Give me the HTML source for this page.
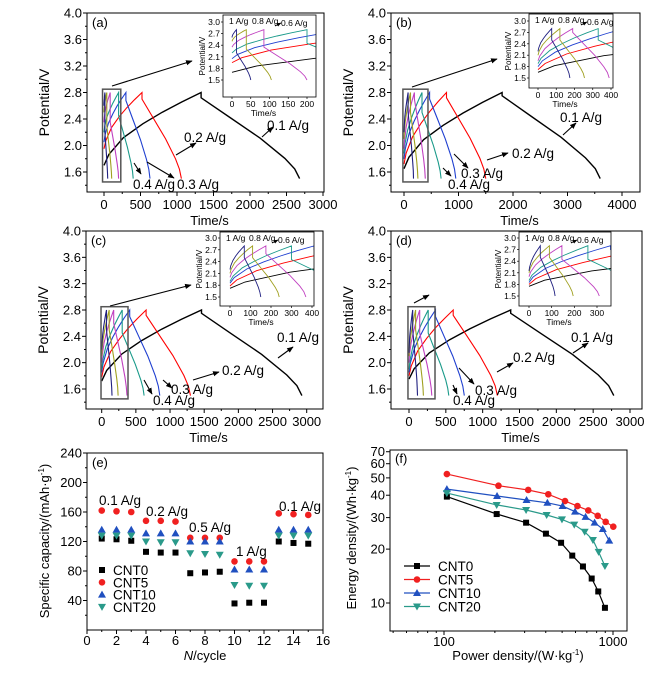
<!DOCTYPE html>
<html><head><meta charset="utf-8"><style>
body{margin:0;background:#fff}
svg{display:block;font-family:"Liberation Sans",Arial,sans-serif}
</style></head><body>
<svg id="fig" width="656" height="673" viewBox="0 0 656 673" xmlns="http://www.w3.org/2000/svg">
<defs><marker id="ah" viewBox="0 0 10 10" refX="9" refY="5" markerWidth="6" markerHeight="6" orient="auto"><path d="M0,1 L10,5 L0,9 z" fill="#000"/></marker></defs>
</svg>
<script>
// ---------- GCD data ----------
const rates = ['0.1 A/g','0.2 A/g','0.3 A/g','0.4 A/g','0.6 A/g','0.8 A/g','1 A/g'];
const colors = ['#000','#f00','#1f3fd0','#1a9a8a','#c040c0','#a0a020','#202080'];
const chargeA = [1330,520,300,200,85,38,12];
const dischA = [2680,1060,630,400,200,105,50];
const v0A = [1.7,1.95,2.05,2.2,2.35,2.5,2.6];
const dropA = [0.08,0.1,0.12,0.35,0.45,0.5,0.6];
const chargeB = [1800,780,470,330,190,120,75];
const dischB = [3600,1500,950,680,390,255,175];
const v0B = [1.65,1.72,1.8,1.88,1.95,2.1,2.2];
const dropB = [0.05,0.08,0.1,0.3,0.1,0.3,0.3];
const chargeC = [1460,650,410,300,175,110,70];
const dischC = [2930,1300,850,620,370,240,150];
const v0C = [1.72,1.78,1.85,1.9,2.0,2.1,2.2];
const dropC = [0.05,0.08,0.1,0.35,0.2,0.3,0.3];
const chargeD = [1380,600,360,260,145,90,50];
const dischD = [2780,1200,750,540,310,195,115];
const v0D = [1.75,1.8,1.85,1.9,2.0,2.1,2.15];
const dropD = [0.05,0.08,0.1,0.35,0.35,0.3,0.3];
// normalized curve shape templates
const chgShapeU = [0,0.05,0.2,0.4,0.6,0.8,1];
const chgShapeF = [0,0.15,0.38,0.57,0.73,0.87,1];
const disShapeU = [0,0.3,0.6,0.85,0.95,1];
const disShapeF = [0,0.25,0.5,0.75,0.88,1];
// ---------- rate capability (e) ----------
const cycles = [1,2,3,4,5,6,7,8,9,10,11,12,13,14,15];
const capCNT0 = [124,123,121,106,105,105,77,78,79,36,37,37,120,118,117];
const capCNT5 = [162,161,160,148,148,147,125,125,125,93,93,93,158,157,156];
const capCNT10 = [136,136,136,131,131,131,120,120,120,82,82,82,136,136,136];
const capCNT20 = [128,128,128,120,119,119,104,103,102,61,60,60,128,128,128];
const eXTicks = [0,2,4,6,8,10,12,14,16];
const eYTicks = [40,80,120,160,200,240];
// ---------- Ragone (f) ----------
const pCNT0 = [104,205,306,401,493,574,664,748,818,896];
const eCNT0 = [39.3,31.4,28.1,24.4,21.7,18.4,16.0,13.7,11.6,9.4];
const pCNT5 = [104,210,315,414,520,616,714,812,905,1004];
const eCNT5 = [52.5,45.2,42.8,40.5,37.1,34.8,32.9,30.7,28.4,26.7];
const pCNT10 = [104,206,308,409,503,596,688,778,870,950];
const eCNT10 = [43.3,39.6,37.6,36.3,34.8,32.4,30.3,28.1,25.9,22.3];
const pCNT20 = [104,205,306,405,499,590,680,761,822,896];
const eCNT20 = [41.1,35.3,33.1,31.0,29.3,27.4,25.0,22.5,19.3,16.1];
const fYTicks = [10,20,30,40,50,60,70];
const fXTicks = [100,1000];

const svg = document.getElementById('fig');
const NS = 'http://www.w3.org/2000/svg';
function mk(tag, attrs, parent){const e=document.createElementNS(NS,tag);for(const k in attrs)e.setAttribute(k,attrs[k]);(parent||svg).appendChild(e);return e;}
function txt(s,x,y,size,anchor,parent){const t=mk('text',{x:x,y:y,'font-size':size,'text-anchor':anchor||'start',fill:'#000'},parent);t.textContent=s;return t;}
function lin(d0,d1,r0,r1){return v=>r0+(v-d0)*(r1-r0)/(d1-d0);}

function curvePoints(tc,td,v0,drop){
  const pts=[];
  for(let i=0;i<chgShapeU.length;i++)pts.push([chgShapeU[i]*tc, v0+chgShapeF[i]*(2.8-v0)]);
  const vs=2.8-drop;
  for(let i=0;i<disShapeU.length;i++)pts.push([tc+disShapeU[i]*(td-tc), vs-disShapeF[i]*(vs-1.5)]);
  return pts;
}
function smoothPath(pts,sx,sy){
  let d='M'+sx(pts[0][0]).toFixed(1)+','+sy(pts[0][1]).toFixed(1);
  for(let i=1;i<pts.length;i++)d+=' L'+sx(pts[i][0]).toFixed(1)+','+sy(pts[i][1]).toFixed(1);
  return d;
}

let clipId=0;
function gcdPanel(o){
  const g=mk('g',{});
  
  
  const sx=lin(0,o.tmax,o.px0,o.px1), sy=lin(4.0,1.6,o.py0,o.py1);
  // curves
  for(let k=0;k<7;k++){
    const p=mk('path',{d:smoothPath(curvePoints(o.ch[k],o.di[k],o.v0[k],o.dr[k]),sx,sy),fill:'none',stroke:colors[k],'stroke-width':k==0?1.4:1.1},g);
    
    
  }
  // frame
  mk('rect',{x:o.x0,y:o.y0,width:o.x1-o.x0,height:o.y1-o.y0,fill:'none',stroke:'#000','stroke-width':1},g);
  // y ticks
  for(let v=1.6;v<=4.001;v+=0.4){const y=sy(v);mk('line',{x1:o.x0,x2:o.x0-4,y1:y,y2:y,stroke:'#000'},g);txt(v.toFixed(1),o.x0-5,y+4.5,13,'end',g);}
  for(let v=1.4;v<=3.901;v+=0.4){const y=sy(v);if(y<o.y1)mk('line',{x1:o.x0,x2:o.x0-2,y1:y,y2:y,stroke:'#000'},g);}
  for(let t=0;t<=o.tmax;t+=o.tstep){const x=sx(t);mk('line',{x1:x,x2:x,y1:o.y1,y2:o.y1+4,stroke:'#000'},g);txt(String(t),x,o.y1+17,13,'middle',g);
    const xm=sx(t+o.tstep/2);if(xm<o.x1)mk('line',{x1:xm,x2:xm,y1:o.y1,y2:o.y1+2,stroke:'#000'},g);}
  const yl=txt('Potential/V',0,0,14,'middle',g);yl.setAttribute('transform','translate('+(o.x0-38)+','+((o.y0+o.y1)/2)+') rotate(-90)');
  
  const xl=txt('Time/s',(o.x0+o.x1)/2+4,o.y1+33,13,'middle',g);
  
  txt('('+o.tag+')',o.x0+5,o.y0+14,13,'start',g);
  // zoom box
  mk('rect',{x:sx(o.bx[0]),y:sy(2.85),width:sx(o.bx[1])-sx(o.bx[0]),height:sy(1.45)-sy(2.85),fill:'none',stroke:'#555','stroke-width':1.5},g);
  mk('line',{x1:o.za[0],y1:o.za[1],x2:o.za[2],y2:o.za[3],stroke:'#000','stroke-width':1.1,'marker-end':'url(#ah)'},g);
  // labels
  o.labels.forEach(L=>{txt(L[0],L[1],L[2],13.5,'start',g);mk('line',{x1:L[3],y1:L[4],x2:L[5],y2:L[6],stroke:'#000','stroke-width':1.1,'marker-end':'url(#ah)'},g);});
  // inset
  const I=o.ins, ig=mk('g',{},g);
  
  const isx=lin(0,I.tm,I.t0,I.t1), isy=lin(3.0,1.5,I.v30,I.v15);
  const cid='clip'+(clipId++);
  const cp=mk('clipPath',{id:cid},ig);mk('rect',{x:I.x0,y:I.y0,width:I.x1-I.x0,height:I.y1-I.y0},cp);
  const cg=mk('g',{'clip-path':'url(#'+cid+')'},ig);
  for(let k=0;k<7;k++)mk('path',{d:smoothPath(curvePoints(o.ch[k],o.di[k],o.v0[k],o.dr[k]),isx,isy),fill:'none',stroke:colors[k],'stroke-width':0.9},cg);
  mk('rect',{x:I.x0,y:I.y0,width:I.x1-I.x0,height:I.y1-I.y0,fill:'none',stroke:'#000','stroke-width':0.8},ig);
  [1.5,1.8,2.1,2.4,2.7,3.0].forEach(v=>{const y=isy(v);mk('line',{x1:I.x0,x2:I.x0-2,y1:y,y2:y,stroke:'#000','stroke-width':0.7},ig);txt(v.toFixed(1),I.x0-3,y+3,8.5,'end',ig);});
  for(let t=0;t<=I.tm;t+=I.ts){const x=isx(t);mk('line',{x1:x,x2:x,y1:I.y1,y2:I.y1+2,stroke:'#000','stroke-width':0.7},ig);txt(String(t),x,I.y1+10,8.5,'middle',ig);}
  const iyl=txt('Potential/V',0,0,8,'middle',ig);iyl.setAttribute('transform','translate('+(I.x0-18)+','+((I.y0+I.y1)/2)+') rotate(-90)');
  txt('Time/s',(I.x0+I.x1)/2-6,I.y1+19,8.5,'middle',ig);
  txt('1 A/g',I.x0+6,I.y0+9,8.5,'start',ig);txt('0.8 A/g',I.x0+29,I.y0+9,8.5,'start',ig);txt('0.6 A/g',I.x0+58,I.y0+11,8.5,'start',ig);
  mk('line',{x1:I.x0+52,y1:I.y0+11,x2:I.x0+58,y2:I.y0+8,stroke:'#000','stroke-width':0.8,'marker-end':'url(#ah)'},ig);
}

gcdPanel({tag:'a',x0:87,x1:324,y0:13,y1:192,px0:104,px1:323,tmax:3000,tstep:500,py0:13,py1:172,
 ch:chargeA,di:dischA,v0:v0A,dr:dropA,bx:[-20,230],za:[112,86,192,61],
 labels:[['0.1 A/g',267,130,262,137,273,127],['0.2 A/g',184,142,176,155,196,143],['0.4 A/g',133,189,134,163,141,174],['0.3 A/g',177,189,147,162,174,178]],
 ins:{x0:223,x1:316,y0:15,y1:97,t0:232,t1:307,tm:200,ts:50,v30:22,v15:80}});
gcdPanel({tag:'b',x0:391,x1:640,y0:13,y1:192,px0:404,px1:622,tmax:4000,tstep:1000,py0:13,py1:172,
 ch:chargeB,di:dischB,v0:v0B,dr:dropB,bx:[-20,440],za:[412,87,497,59],
 labels:[['0.1 A/g',560,122,563,135,576,123],['0.2 A/g',512,158,487,160,508,153],['0.3 A/g',461,178,454,154,468,168],['0.4 A/g',448,189,443,168,451,176]],
 ins:{x0:529,x1:613,y0:14,y1:88,t0:538,t1:611,tm:400,ts:100,v30:21,v15:78}});
gcdPanel({tag:'c',x0:86,x1:323,y0:231,y1:409,px0:101.7,px1:306.7,tmax:3000,tstep:500,py0:231,py1:389,
 ch:chargeC,di:dischC,v0:v0C,dr:dropC,bx:[-10,385],za:[110,306,191,285],
 labels:[['0.1 A/g',277,342,278,358,293,347],['0.2 A/g',222,375,193,380,219,372],['0.3 A/g',171,394,163,380,172,388],['0.4 A/g',153,405,144,380,152,394]],
 ins:{x0:220,x1:314,y0:232,y1:306,t0:230,t1:312,tm:400,ts:100,v30:238,v15:297}});
gcdPanel({tag:'d',x0:391,x1:642,y0:231,y1:409,px0:409,px1:630,tmax:3000,tstep:500,py0:231,py1:389,
 ch:chargeD,di:dischD,v0:v0D,dr:dropD,bx:[-14,353],za:[414,303,429,295],
 labels:[['0.1 A/g',571,342,573,353,588,343],['0.2 A/g',513,362,497,372,513,363],['0.3 A/g',475,395,459,368,474,384],['0.4 A/g',453,405,453,385,457,394]],
 ins:{x0:519,x1:611,y0:232,y1:306,t0:529,t1:597,tm:300,ts:100,v30:238,v15:296}});

// ---------- panel e ----------
(function(){
  const g=mk('g',{});
  const X0=87,X1=323,Y0=453,Y1=630;
  const sx=lin(0,16,X0,X1), sy=lin(0,240,Y1,Y0);
  mk('rect',{x:X0,y:Y0,width:X1-X0,height:Y1-Y0,fill:'none',stroke:'#000'},g);
  eYTicks.forEach(v=>{const y=sy(v);mk('line',{x1:X0,x2:X0-4,y1:y,y2:y,stroke:'#000'},g);txt(String(v),X0-5,y+4.5,13,'end',g);const ym=sy(v-20);mk('line',{x1:X0,x2:X0-2,y1:ym,y2:ym,stroke:'#000'},g);});
  eXTicks.forEach(v=>{const x=sx(v);mk('line',{x1:x,x2:x,y1:Y1,y2:Y1+4,stroke:'#000'},g);txt(String(v),x,Y1+15,13,'middle',g);if(v<16){const xm=sx(v+1);mk('line',{x1:xm,x2:xm,y1:Y1,y2:Y1+2,stroke:'#000'},g);}});
  const xl=mk('text',{x:(X0+X1)/2,y:660,'font-size':13,'text-anchor':'middle'},g);xl.innerHTML='<tspan font-style="italic">N</tspan>/cycle';
  
  const yl=mk('text',{'font-size':13,'text-anchor':'middle',transform:'translate(49,541) rotate(-90)'},g);
  yl.innerHTML='Specific capacity/(mAh·g<tspan font-size="8" dy="-5">-1</tspan><tspan dy="5">)</tspan>';
  
  txt('(e)',X0+5,Y0+14,13,'start',g);
  const series=[[capCNT0,'#000','sq','CNT0'],[capCNT5,'#f02020','ci','CNT5'],[capCNT10,'#2050c0','up','CNT10'],[capCNT20,'#2a9a8a','dn','CNT20']];
  function marker(type,x,y,c,parent){
    if(type=='sq')return mk('rect',{x:x-3,y:y-3,width:6,height:6,fill:c},parent);
    if(type=='ci')return mk('circle',{cx:x,cy:y,r:3.3,fill:c},parent);
    if(type=='up')return mk('path',{d:`M${x},${y-4}L${x+4},${y+3}L${x-4},${y+3}Z`,fill:c},parent);
    return mk('path',{d:`M${x},${y+4}L${x+4},${y-3}L${x-4},${y-3}Z`,fill:c},parent);
  }
  series.forEach((s,si)=>{
    s[0].forEach((v,i)=>{const m=marker(s[2],sx(cycles[i]),sy(v),s[1],g);
      
      });
    const ly=570+si*12.3;marker(s[2],102,ly,s[1],g);txt(s[3],113,ly+5,13.5,'start',g);
  });
  txt('0.1 A/g',99,505,13.5,'start',g);txt('0.2 A/g',146,516,13.5,'start',g);txt('0.5 A/g',189,532,13.5,'start',g);txt('1 A/g',236,556,13.5,'start',g);txt('0.1 A/g',279,511,13.5,'start',g);
})();

// ---------- panel f ----------
(function(){
  const g=mk('g',{});
  const X0=390,X1=627,Y0=450,Y1=631;
  const sx=v=>444+169*Math.log10(v/100);
  const sy=v=>603-179*Math.log10(v/10);
  mk('rect',{x:X0,y:Y0,width:X1-X0,height:Y1-Y0,fill:'none',stroke:'#000'},g);
  fYTicks.forEach(v=>{const y=sy(v);mk('line',{x1:X0,x2:X0-4,y1:y,y2:y,stroke:'#000'},g);txt(String(v),X0-5,y+4.5,13,'end',g);});
  fXTicks.forEach(v=>{const x=sx(v);mk('line',{x1:x,x2:x,y1:Y1,y2:Y1+4,stroke:'#000'},g);txt(String(v),x,Y1+15,13,'middle',g);});
  [50,60,70,80,90,200,300,400,500,600,700,800,900].forEach(v=>{const x=sx(v);mk('line',{x1:x,x2:x,y1:Y1,y2:Y1+2,stroke:'#000'},g);});
  const xl=mk('text',{x:518,y:660,'font-size':13,'text-anchor':'middle'},g);xl.innerHTML='Power density/(W·kg<tspan font-size="8" dy="-5">-1</tspan><tspan dy="5">)</tspan>';
  
  const yl=mk('text',{'font-size':13,'text-anchor':'middle',transform:'translate(356,538) rotate(-90)'},g);
  yl.innerHTML='Energy density/(Wh·kg<tspan font-size="8" dy="-5">-1</tspan><tspan dy="5">)</tspan>';
  
  txt('(f)',X0+5,Y0+13,13,'start',g);
  const series=[[pCNT0,eCNT0,'#000','sq','CNT0'],[pCNT5,eCNT5,'#f02020','ci',' CNT5'],[pCNT10,eCNT10,'#2050c0','up','CNT10'],[pCNT20,eCNT20,'#2a9a8a','dn','CNT20']];
  function marker(type,x,y,c){
    if(type=='sq')return mk('rect',{x:x-3,y:y-3,width:6,height:6,fill:c},g);
    if(type=='ci')return mk('circle',{cx:x,cy:y,r:3.3,fill:c},g);
    if(type=='up')return mk('path',{d:`M${x},${y-4}L${x+4},${y+3}L${x-4},${y+3}Z`,fill:c},g);
    return mk('path',{d:`M${x},${y+4}L${x+4},${y-3}L${x-4},${y-3}Z`,fill:c},g);
  }
  series.forEach((s,si)=>{
    const d=s[0].map((p,i)=>(i?'L':'M')+sx(p).toFixed(1)+','+sy(s[1][i]).toFixed(1)).join('');
    const ln=mk('path',{d:d,fill:'none',stroke:s[2],'stroke-width':1.2},g);
    
    
    s[0].forEach((p,i)=>marker(s[3],sx(p),sy(s[1][i]),s[2]));
    const ly=566+si*13.5;mk('line',{x1:404,x2:430,y1:ly,y2:ly,stroke:s[2],'stroke-width':1.2},g);marker(s[3],417,ly,s[2]);
    txt(s[4],438,ly+5,13.5,'start',g).setAttribute('xml:space','preserve');
  });
})();
</script>
</body></html>
